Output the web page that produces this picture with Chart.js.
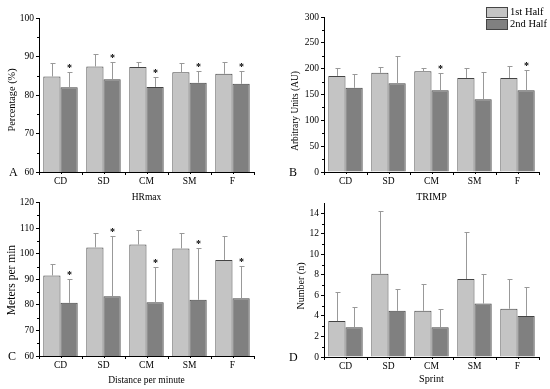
<!DOCTYPE html>
<html>
<head>
<meta charset="utf-8">
<script src="https://cdn.jsdelivr.net/npm/chart.js@4/dist/chart.umd.min.js"></script>
<style>
  body { margin: 0; background: #fff; }
  #wrap { position: relative; width: 550px; height: 389px; font-family: "Liberation Serif", serif; color: #000; }
  canvas { position: absolute; }
  .tag { position: absolute; font-size: 12px; line-height: 12px; }
  .ytitle { position: absolute; white-space: nowrap; line-height: 1; transform: translate(-50%, -50%) rotate(-90deg); }
  .key { position: absolute; width: 20px; height: 9px; border: 1px solid #444; }
  .keytext { position: absolute; font-size: 10.5px; line-height: 11px; }
</style>
</head>
<body>
<div id="wrap">
  <canvas id="hr" width="275" height="205" style="left:0;top:0"></canvas>
  <canvas id="trimp" width="265" height="205" style="left:285px;top:0"></canvas>
  <canvas id="dpm" width="275" height="194" style="left:0;top:195px"></canvas>
  <canvas id="sprint" width="265" height="194" style="left:285px;top:195px"></canvas>

  <div class="ytitle" style="left:12px;top:100px;font-size:10.3px">Percentage (%)</div>
  <div class="ytitle" style="left:296px;top:111px;font-size:9.4px">Arbitrary Units (AU)</div>
  <div class="ytitle" style="left:12px;top:280px;font-size:11.5px">Meters per min</div>
  <div class="ytitle" style="left:301px;top:286px;font-size:10px">Number (n)</div>

  <div class="tag" style="left:9px;top:166px">A</div>
  <div class="tag" style="left:289px;top:166px">B</div>
  <div class="tag" style="left:8px;top:350px">C</div>
  <div class="tag" style="left:289px;top:351px">D</div>

  <div class="key" style="left:486px;top:7px;background:#c4c4c4"></div>
  <div class="keytext" style="left:510px;top:6px">1st Half</div>
  <div class="key" style="left:486px;top:19px;background:#808080"></div>
  <div class="keytext" style="left:510px;top:18px">2nd Half</div>
</div>

<script>
const categories = ['CD', 'SD', 'CM', 'SM', 'F'];
const seriesNames = ['1st Half', '2nd Half'];

// A - HRmax (%)
const hrTicks = [60, 70, 80, 90, 100];
const hrFirst = [84.8, 87.4, 87.3, 85.9, 85.5];
const hrFirstSd = [3.6, 3.2, 1.3, 2.3, 3.1];
const hrSecond = [82.0, 84.1, 82.1, 83.2, 82.9];
const hrSecondSd = [3.9, 4.6, 2.6, 3.1, 3.4];
const hrSig = [true, true, true, true, true];

// B - TRIMP (AU)
const trimpTicks = [0, 50, 100, 150, 200, 250, 300];
const trimpFirst = [186, 192, 195, 182, 182];
const trimpFirstSd = [16, 12, 7, 20, 24];
const trimpSecond = [163, 172, 158, 141, 158];
const trimpSecondSd = [26, 52, 33, 52, 40];
const trimpSig = [false, false, true, false, true];

// C - distance per minute (m/min)
const dpmTicks = [60, 70, 80, 90, 100, 110, 120];
const dpmFirst = [91.5, 102.5, 103.6, 102.1, 97.6];
const dpmFirstSd = [4.7, 5.8, 5.9, 5.9, 9.3];
const dpmSecond = [80.8, 83.4, 81.0, 82.0, 82.6];
const dpmSecondSd = [9.5, 23.6, 13.9, 20.1, 12.8];
const dpmSig = [true, true, true, true, true];

// D - sprints (n)
const sprintTicks = [0, 2, 4, 6, 8, 10, 12, 14];
const sprintFirst = [3.5, 8.1, 4.5, 7.6, 4.7];
const sprintFirstSd = [2.8, 6.1, 2.6, 4.6, 2.9];
const sprintSecond = [2.9, 4.5, 2.9, 5.2, 4.0];
const sprintSecondSd = [1.95, 2.1, 1.8, 2.9, 2.85];
const sprintSig = [false, false, false, false, false];

const FIRST_COLOR = '#c4c4c4';
const SECOND_COLOR = '#808080';
const EDGE_COLOR = '#444';
const FONT = 'Liberation Serif';

// draws upper error bars, significance stars and minor axis ticks
const errorBarPlugin = {
  id: 'errorBars',
  afterDatasetsDraw(chart) {
    const ctx = chart.ctx;
    const y = chart.scales.y;
    chart.data.datasets.forEach((ds, i) => {
      const meta = chart.getDatasetMeta(i);
      meta.data.forEach((bar, j) => {
        const top = Math.round(y.getPixelForValue(ds.data[j] + ds.sd[j])) + 0.5;
        const x = Math.round(bar.x) + 0.5;
        ctx.save();
        ctx.strokeStyle = '#999';
        ctx.lineWidth = 1;
        ctx.beginPath();
        ctx.moveTo(x, bar.y);
        ctx.lineTo(x, top);
        ctx.moveTo(x - 2, top);
        ctx.lineTo(x + 3, top);
        ctx.stroke();
        if (ds.sig && ds.sig[j]) {
          ctx.fillStyle = '#000';
          ctx.font = `bold 10px "${FONT}"`;
          ctx.textAlign = 'center';
          ctx.textBaseline = 'alphabetic';
          ctx.fillText('*', x, top - 2);
        }
        ctx.restore();
      });
    });
  },
  afterDraw(chart) {
    const ctx = chart.ctx;
    const { x, y } = chart.scales;
    const area = chart.chartArea;
    ctx.save();
    ctx.strokeStyle = '#000';
    ctx.lineWidth = 1;
    ctx.beginPath();
    for (let i = 0; i < y.ticks.length - 1; i++) {
      const mid = (y.ticks[i].value + y.ticks[i + 1].value) / 2;
      const py = Math.round(y.getPixelForValue(mid)) + 0.5;
      ctx.moveTo(area.left, py);
      ctx.lineTo(area.left - 2, py);
    }
    categories.forEach((c, i) => {
      const px = Math.round(x.getPixelForTick(i)) + 0.5;
      ctx.moveTo(px, area.bottom);
      ctx.lineTo(px, area.bottom + 2);
    });
    ctx.stroke();
    ctx.restore();
  }
};

function makePanel(id, cfg) {
  return new Chart(document.getElementById(id), {
    type: 'bar',
    data: {
      labels: categories,
      datasets: [
        { label: seriesNames[0], data: cfg.first, sd: cfg.firstSd, backgroundColor: FIRST_COLOR },
        { label: seriesNames[1], data: cfg.second, sd: cfg.secondSd, sig: cfg.sig, backgroundColor: SECOND_COLOR }
      ]
    },
    options: {
      responsive: false,
      animation: false,
      datasets: {
        bar: { categoryPercentage: 0.8, barPercentage: 1.0, borderColor: EDGE_COLOR, borderWidth: 1 }
      },
      layout: { padding: cfg.padding },
      plugins: { legend: { display: false }, tooltip: { enabled: false } },
      scales: {
        x: {
          grid: { drawOnChartArea: false, tickLength: 3, color: '#000' },
          border: { color: '#000' },
          ticks: { color: '#000', font: { family: FONT, size: 9.5 }, padding: 1 },
          title: { display: true, text: cfg.xTitle, color: '#000', font: { family: FONT, size: cfg.xTitleSize }, padding: { top: 0, bottom: cfg.xTitlePad } },
          afterFit: s => { s.height = cfg.xHeight; }
        },
        y: {
          min: cfg.ticks[0],
          max: cfg.max,
          ticks: { color: '#000', font: { family: FONT, size: 9.5 }, padding: 2 },
          afterBuildTicks: s => { s.ticks = cfg.ticks.map(v => ({ value: v })); },
          grid: { drawOnChartArea: false, tickLength: 3, color: '#000' },
          border: { color: '#000' },
          afterFit: s => { s.width = 39; }
        }
      }
    },
    plugins: [errorBarPlugin]
  });
}

makePanel('hr', {
  first: hrFirst, firstSd: hrFirstSd, second: hrSecond, secondSd: hrSecondSd, sig: hrSig,
  ticks: hrTicks, max: 100,
  xTitle: 'HRmax', xTitleSize: 9.5, xTitlePad: 2,
  padding: { top: 18, right: 21, left: 0, bottom: 0 }, xHeight: 33
});

makePanel('trimp', {
  first: trimpFirst, firstSd: trimpFirstSd, second: trimpSecond, secondSd: trimpSecondSd, sig: trimpSig,
  ticks: trimpTicks, max: 300,
  xTitle: 'TRIMP', xTitleSize: 10, xTitlePad: 2,
  padding: { top: 17, right: 11, left: 0, bottom: 0 }, xHeight: 33
});

makePanel('dpm', {
  first: dpmFirst, firstSd: dpmFirstSd, second: dpmSecond, secondSd: dpmSecondSd, sig: dpmSig,
  ticks: dpmTicks, max: 120,
  xTitle: 'Distance per minute', xTitleSize: 9.5, xTitlePad: 3,
  padding: { top: 7, right: 21, left: 0, bottom: 0 }, xHeight: 33
});

makePanel('sprint', {
  first: sprintFirst, firstSd: sprintFirstSd, second: sprintSecond, secondSd: sprintSecondSd, sig: sprintSig,
  ticks: sprintTicks, max: 15,
  xTitle: 'Sprint', xTitleSize: 10.2, xTitlePad: 4,
  padding: { top: 8, right: 11, left: 0, bottom: 0 }, xHeight: 32
});
</script>
</body>
</html>
